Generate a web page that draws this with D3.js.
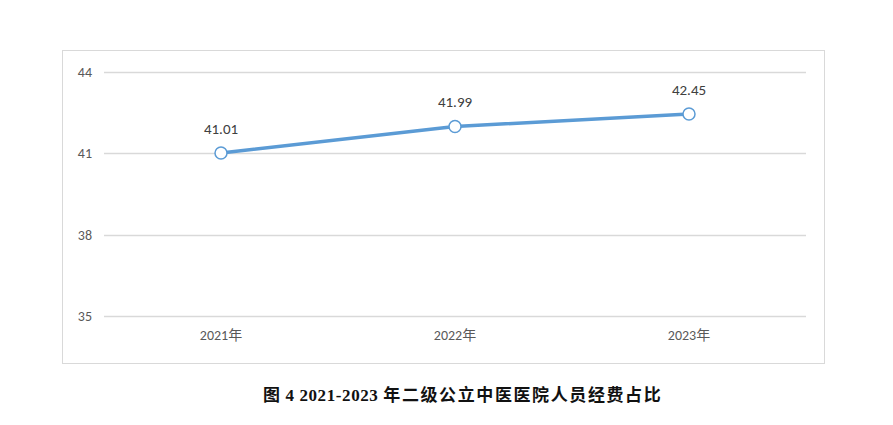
<!DOCTYPE html>
<html><head><meta charset="utf-8">
<script src="https://cdn.jsdelivr.net/npm/d3@7"></script>
<style>
body{margin:0;background:#fff;}
svg{display:block;}
</style></head>
<body>
<svg id="chart" width="893" height="425"></svg>
<script>
const categories = ["2021年", "2022年", "2023年"];
const values = [41.01, 41.99, 42.45];
const yTicks = [35, 38, 41, 44];
const titleLead = "图 4 2021-2023 ";
const titleRest = "年二级公立中医医院人员经费占比";

const svg = d3.select("#chart");
const font = "Calibri, Carlito, 'Open Sans', 'Noto Sans CJK SC', sans-serif";

// outer frame
svg.append("rect").attr("x", 62.5).attr("y", 50.5).attr("width", 762).attr("height", 313)
  .attr("fill", "#fff").attr("stroke", "#d9d9d9").attr("stroke-width", 1);

const x = d3.scaleBand().domain(categories).range([104, 806]);
const y = d3.scaleLinear().domain([35, 44]).range([316, 72]);

// grid
svg.append("g").selectAll("line").data(yTicks).join("line")
  .attr("x1", 104).attr("x2", 806)
  .attr("y1", d => Math.round(y(d)) + 0.5).attr("y2", d => Math.round(y(d)) + 0.5)
  .attr("stroke", "#d9d9d9").attr("stroke-width", 1.3);

// y axis labels
const yAxis = svg.append("g").attr("transform", "translate(92,0)")
  .call(d3.axisLeft(y).tickValues(yTicks).tickSize(0).tickPadding(0));
yAxis.select(".domain").remove();
yAxis.selectAll("text").attr("font-family", font).attr("font-size", 14).attr("fill", "#595959");

// x axis labels
const xAxis = svg.append("g").attr("transform", "translate(0,330)")
  .call(d3.axisBottom(x).tickSize(0).tickPadding(0));
xAxis.select(".domain").remove();
xAxis.selectAll("text").attr("font-family", font).attr("font-size", 14).attr("fill", "#595959");

const cx = d => x(d) + x.bandwidth() / 2;
const pts = categories.map((c, i) => ({c, v: values[i]}));

svg.append("path").datum(pts)
  .attr("d", d3.line().x(d => cx(d.c)).y(d => y(d.v)))
  .attr("fill", "none").attr("stroke", "#5b9bd5").attr("stroke-width", 3.5)
  .attr("stroke-linejoin", "round").attr("stroke-linecap", "round");

svg.append("g").selectAll("circle").data(pts).join("circle")
  .attr("cx", d => cx(d.c)).attr("cy", d => y(d.v)).attr("r", 6)
  .attr("fill", "#fff").attr("stroke", "#5b9bd5").attr("stroke-width", 1.5);

svg.append("g").selectAll("text").data(pts).join("text")
  .attr("x", d => cx(d.c)).attr("y", d => y(d.v) - 19)
  .attr("text-anchor", "middle").attr("font-family", font).attr("font-size", 15)
  .attr("fill", "#404040").text(d => d.v.toFixed(2));

const t = svg.append("text").attr("x", 263).attr("y", 401).attr("text-anchor", "start")
  .attr("font-family", "'Liberation Serif', 'Times New Roman', 'Noto Sans CJK SC', serif")
  .attr("font-weight", "bold").attr("font-size", 17).attr("fill", "#111");
t.append("tspan").attr("letter-spacing", 0.6).text(titleLead);
t.append("tspan").attr("letter-spacing", 1.6).text(titleRest);
</script>
</body></html>
